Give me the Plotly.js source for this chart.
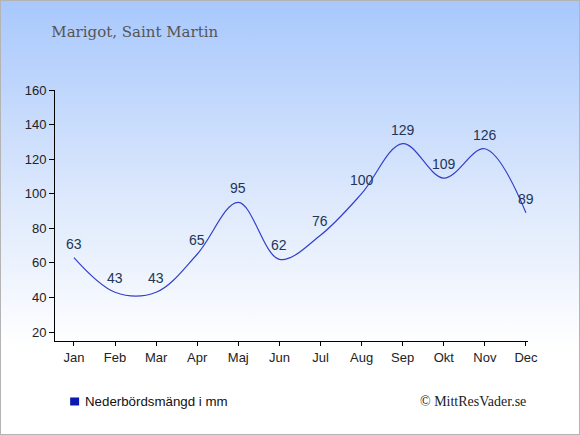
<!DOCTYPE html>
<html><head><meta charset="utf-8">
<script src="https://cdn.plot.ly/plotly-3.0.1.min.js"></script>
<style>
html,body{margin:0;padding:0;}
#wrap{width:578px;height:433px;border:1px solid #b4b4b4;background:linear-gradient(to bottom,#a8c8fc 0%,#dce8fc 45%,#ffffff 80%,#ffffff 100%);}
#chart{width:578px;height:433px;}
</style></head>
<body><div id="wrap"><div id="chart"></div></div>
<script>
const months = ["Jan","Feb","Mar","Apr","Maj","Jun","Jul","Aug","Sep","Okt","Nov","Dec"];
const precip = [63,43,43,65,95,62,76,100,129,109,126,89];
const yTicks = [20,40,60,80,100,120,140,160];
const title = "Marigot, Saint Martin";
const legendLabel = "Nederbördsmängd i mm";
const credit = "© MittResVader.se";

const xs = months.map((m,i)=>i);
const trace = {
  x: xs, y: precip, type:'scatter', mode:'lines',
  line:{color:'#3440c8', width:1.2, shape:'spline', smoothing:1},
  hoverinfo:'none', showlegend:false, cliponaxis:false
};
const valueLabels = precip.map((v,i)=>({
  x:i, y:v, xref:'x', yref:'y', text:String(v), showarrow:false,
  yshift:14, xanchor:'center', yanchor:'middle',
  font:{family:'Liberation Sans, Arial, sans-serif', size:14, color:'#23355a'}
}));
const layout = {
  width:578, height:433,
  paper_bgcolor:'rgba(0,0,0,0)', plot_bgcolor:'rgba(0,0,0,0)',
  margin:{l:54, r:51, t:89, b:93},
  title:{text:title, x:0.087, xanchor:'left', y:0.928, yanchor:'middle',
    font:{family:'DejaVu Serif, Georgia, serif', size:15, color:'#555555'}},
  xaxis:{range:[-0.46,11.05], tickvals:xs, ticktext:months, showgrid:false, zeroline:false,
    showline:true, linecolor:'#000', linewidth:1, ticks:'outside', ticklen:4, tickcolor:'#000',
    tickfont:{family:'Liberation Sans, Arial, sans-serif', size:13, color:'#222'}, fixedrange:true},
  yaxis:{range:[14.8,160], tickvals:yTicks, showgrid:false, zeroline:false,
    showline:true, linecolor:'#000', linewidth:1, ticks:'outside', ticklen:5, tickcolor:'#000',
    tickfont:{family:'Liberation Sans, Arial, sans-serif', size:13, color:'#222'}, fixedrange:true},
  shapes:[{type:'rect', xref:'paper', yref:'paper', x0:0.032, x1:0.051, y0:-0.257, y1:-0.225,
    fillcolor:'#0a1ab0', line:{width:0}}],
  annotations:valueLabels.concat([
    {xref:'paper', yref:'paper', x:0.060, y:-0.241, xanchor:'left', yanchor:'middle', showarrow:false,
     text:legendLabel, font:{family:'Liberation Sans, Arial, sans-serif', size:13.3, color:'#111'}},
    {xref:'paper', yref:'paper', x:1.0, y:-0.241, xanchor:'right', yanchor:'middle', showarrow:false,
     text:credit, font:{family:'Liberation Serif, Times New Roman, serif', size:14, color:'#222'}}
  ])
};
Plotly.newPlot('chart',[trace],layout,{displayModeBar:false, staticPlot:true});
</script></body></html>
